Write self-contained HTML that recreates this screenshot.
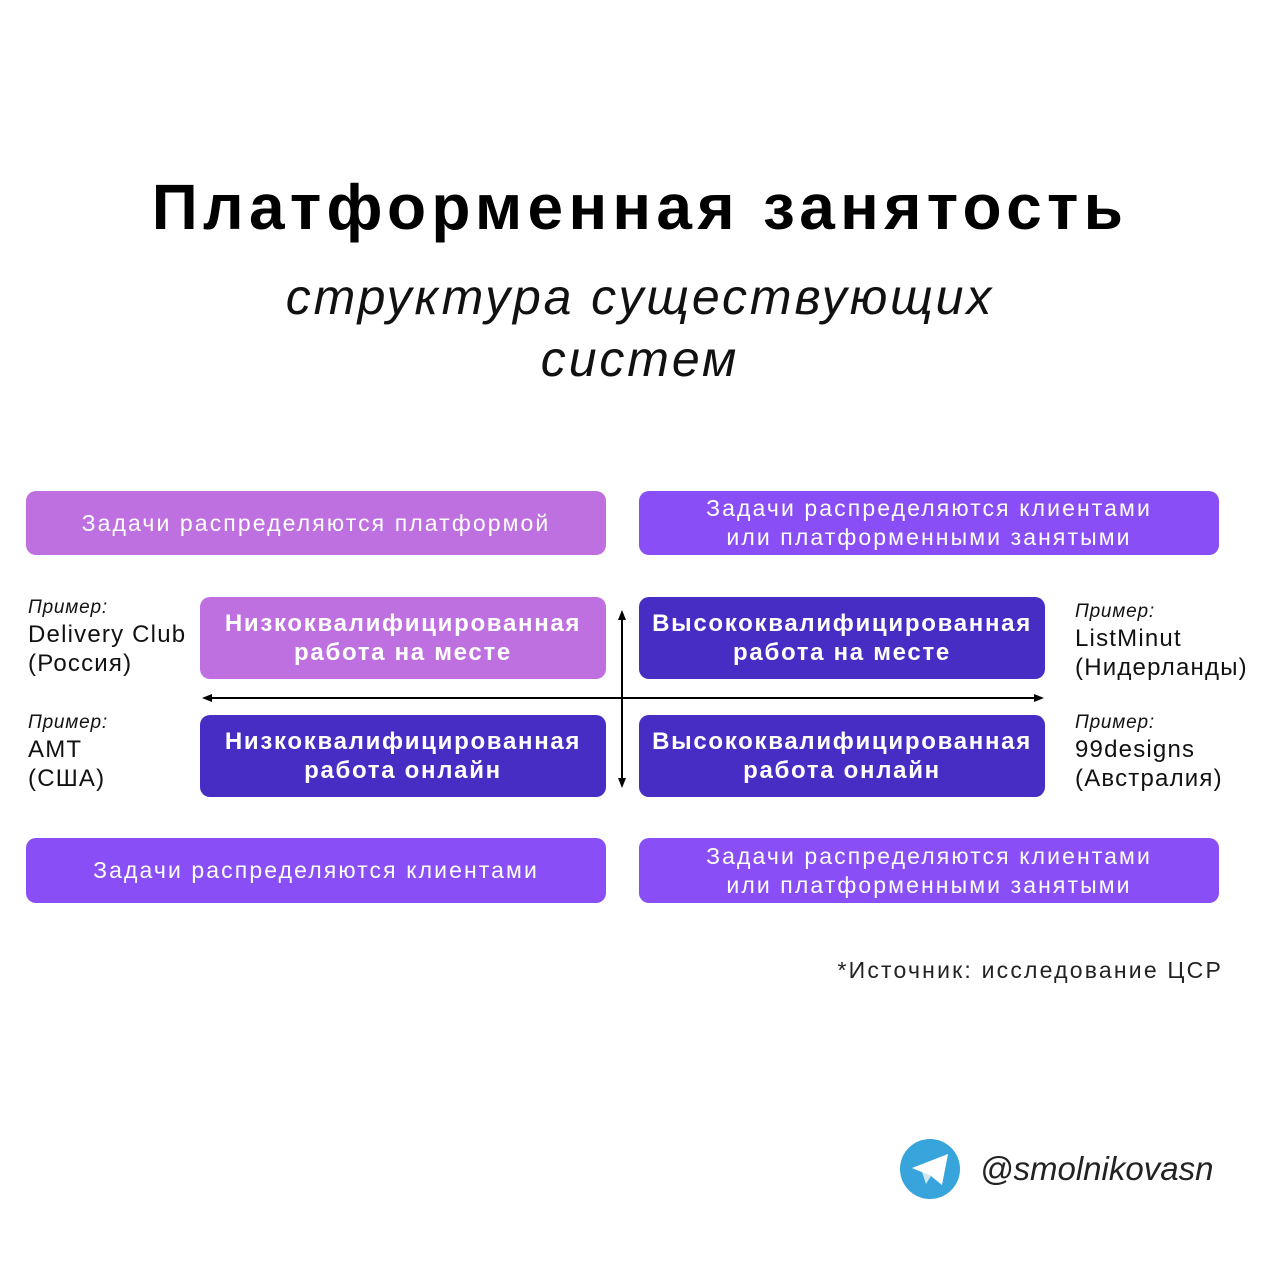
<!DOCTYPE html>
<html><head><meta charset="utf-8"><style>
body{margin:0;width:1280px;height:1280px;background:#fff;position:relative;font-family:"Liberation Sans",sans-serif;overflow:hidden}
.a{position:absolute}
.b{position:absolute;border-radius:10px;color:#fff;display:flex;align-items:center;justify-content:center;text-align:center}
.t{font-size:23px;line-height:29px;letter-spacing:2.1px}
.h{font-size:24px;font-weight:bold;line-height:29px;letter-spacing:1.7px}
.lp{background:#bf70e0}.vp{background:#8a4ef6}.dp{background:#472dc4}
.lab{position:absolute;font-size:24px;line-height:29px;color:#111;letter-spacing:1.2px}
.lab i{font-size:19px;display:block;line-height:24px;letter-spacing:0.8px}
</style></head><body>
<div class="a" style="left:0;width:1280px;top:170px;text-align:center;font-size:64px;font-weight:bold;color:#000;letter-spacing:5.3px">Платформенная занятость</div>
<div class="a" style="left:0;width:1280px;top:266px;text-align:center;font-size:50px;font-style:italic;line-height:62px;color:#111;letter-spacing:2.9px">структура существующих<br>систем</div>

<div class="b lp t" style="left:26px;top:491px;width:580px;height:64px">Задачи распределяются платформой</div>
<div class="b vp t" style="left:639px;top:491px;width:580px;height:64px">Задачи распределяются клиентами<br>или платформенными занятыми</div>

<div class="b lp h" style="left:200px;top:597px;width:406px;height:82px">Низкоквалифицированная<br>работа на месте</div>
<div class="b dp h" style="left:639px;top:597px;width:406px;height:82px">Высококвалифицированная<br>работа на месте</div>
<div class="b dp h" style="left:200px;top:715px;width:406px;height:82px">Низкоквалифицированная<br>работа онлайн</div>
<div class="b dp h" style="left:639px;top:715px;width:406px;height:82px">Высококвалифицированная<br>работа онлайн</div>

<div class="b vp t" style="left:26px;top:838px;width:580px;height:65px">Задачи распределяются клиентами</div>
<div class="b vp t" style="left:639px;top:838px;width:580px;height:65px">Задачи распределяются клиентами<br>или платформенными занятыми</div>

<svg class="a" style="left:0;top:0" width="1280" height="1280">
<line x1="206" y1="698" x2="1040" y2="698" stroke="#000" stroke-width="2"/>
<polygon points="202,698 212,694 212,702" fill="#000"/>
<polygon points="1044,698 1034,694 1034,702" fill="#000"/>
<line x1="622" y1="614" x2="622" y2="784" stroke="#000" stroke-width="2"/>
<polygon points="622,610 618,620 626,620" fill="#000"/>
<polygon points="622,788 618,778 626,778" fill="#000"/>
<circle cx="930" cy="1169" r="30" fill="#37a4dc"/>
<polygon points="912,1168 948,1154 942,1185 931,1176" fill="#fff"/>
<polygon points="922,1172 926,1184 931,1176" fill="#d0e6f2"/>
</svg>

<div class="lab" style="left:28px;top:596px"><i>Пример:</i>Delivery Club<br>(Россия)</div>
<div class="lab" style="left:28px;top:711px"><i>Пример:</i>AMT<br>(США)</div>
<div class="lab" style="left:1075px;top:600px"><i>Пример:</i>ListMinut<br>(Нидерланды)</div>
<div class="lab" style="left:1075px;top:711px"><i>Пример:</i>99designs<br>(Австралия)</div>

<div class="a" style="left:780px;top:957px;width:443px;text-align:right;font-size:23px;color:#222;letter-spacing:2.2px">*Источник: исследование ЦСР</div>
<div class="a" style="left:980px;top:1150px;font-size:33px;font-style:italic;color:#222">@smolnikovasn</div>
</body></html>
